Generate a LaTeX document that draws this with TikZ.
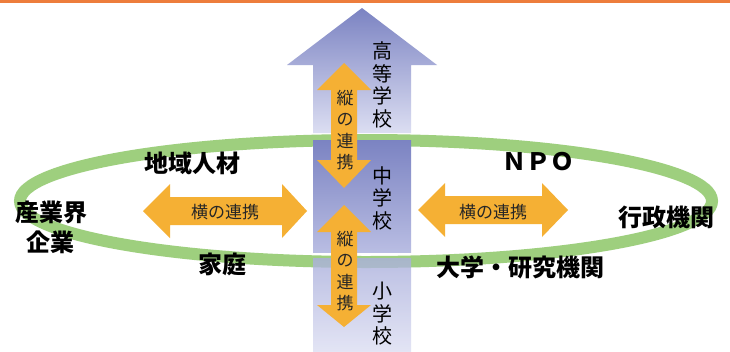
\documentclass[tikz,border=0pt]{standalone}
\usepackage{fontspec}
\newfontfamily\cjk{Noto Sans CJK JP}
\usetikzlibrary{shapes.arrows}
\definecolor{topline}{RGB}{237,125,60}
\definecolor{ringgreen}{RGB}{158,207,126}
\definecolor{arroworange}{RGB}{245,176,52}
\definecolor{bluedark}{RGB}{123,131,194}
\definecolor{bluemid}{RGB}{170,175,220}
\definecolor{bluelight}{RGB}{220,222,242}
\tikzset{
  outerlabel/.style={font=\cjk\bfseries\fontsize{24}{26}\selectfont, text=black, inner sep=0pt},
  schoollabel/.style={font=\cjk\fontsize{20}{22.5}\selectfont, text=black, align=center, inner sep=0pt},
  vlinklabel/.style={font=\cjk\fontsize{17}{21.5}\selectfont, text=black!85, align=center, inner sep=0pt},
  hlinklabel/.style={font=\cjk\fontsize{17}{20}\selectfont, text=black!85, inner sep=0pt},
  orangearrow/.style={fill=arroworange, draw=none},
}
\begin{document}
\begin{tikzpicture}[x=1pt,y=-1pt]
\useasboundingbox (0,0) rectangle (730,351);
\fill[white] (0,0) rectangle (730,351);
% top orange rule
\fill[topline] (0,0) rectangle (730,3);
% green ring
\draw[ringgreen, line width=12pt] (366,201) ellipse [x radius=346, y radius=61];
% big blue arrow: head + upper shaft
\shade[top color=bluedark, bottom color=bluelight]
  (362,8) -- (437,65) -- (411,65) -- (411,133) -- (313,133) -- (313,65) -- (287,65) -- cycle;
% middle section
\shade[top color=bluedark, bottom color=bluemid!70!bluelight] (313,140) rectangle (411,252);
% lower section
\shade[top color=bluemid, bottom color=bluelight, opacity=0.8] (313,258) rectangle (411,351);
% horizontal link arrows
\fill[orangearrow] (143,211) -- (170,184) -- (170,197) -- (282,197) -- (282,184) -- (307,211)
  -- (282,238) -- (282,225) -- (170,225) -- (170,238) -- cycle;
\fill[orangearrow] (418,210) -- (445,183) -- (445,196) -- (542,196) -- (542,183) -- (568,210)
  -- (542,237) -- (542,224) -- (445,224) -- (445,237) -- cycle;
% vertical link arrows
\fill[orangearrow] (344,63) -- (371,90) -- (357,90) -- (357,160) -- (371,160) -- (344,188)
  -- (317,160) -- (331,160) -- (331,90) -- (317,90) -- cycle;
\fill[orangearrow] (344,205) -- (371,232) -- (357,232) -- (357,305) -- (371,305) -- (344,327)
  -- (317,305) -- (331,305) -- (331,232) -- (317,232) -- cycle;
% arrow labels
\node[hlinklabel] (hl) at (225,212) {横の連携};
\node[hlinklabel] (hr) at (493,212) {横の連携};
\node[vlinklabel] (vu) at (345,130) {縦\\の\\連\\携};
\node[vlinklabel] (vd) at (345,271) {縦\\の\\連\\携};
% school labels
\node[schoollabel] (high) at (382,85) {高\\等\\学\\校};
\node[schoollabel] (mid) at (382,198) {中\\学\\校};
\node[schoollabel] (ele) at (382,314) {小\\学\\校};
% outer labels
\node[outerlabel] (chiiki) at (192,163) {地域人材};
\node[outerlabel] (sangyo) at (51,212) {産業界};
\node[outerlabel] (kigyo) at (50,242) {企業};
\node[outerlabel] (katei) at (222,264) {家庭};
\node[outerlabel] (npo) at (538,162) {ＮＰＯ};
\node[outerlabel] (gyosei) at (666,217) {行政機関};
\node[outerlabel] (daigaku) at (520,267) {大学・研究機関};
\end{tikzpicture}
\end{document}
